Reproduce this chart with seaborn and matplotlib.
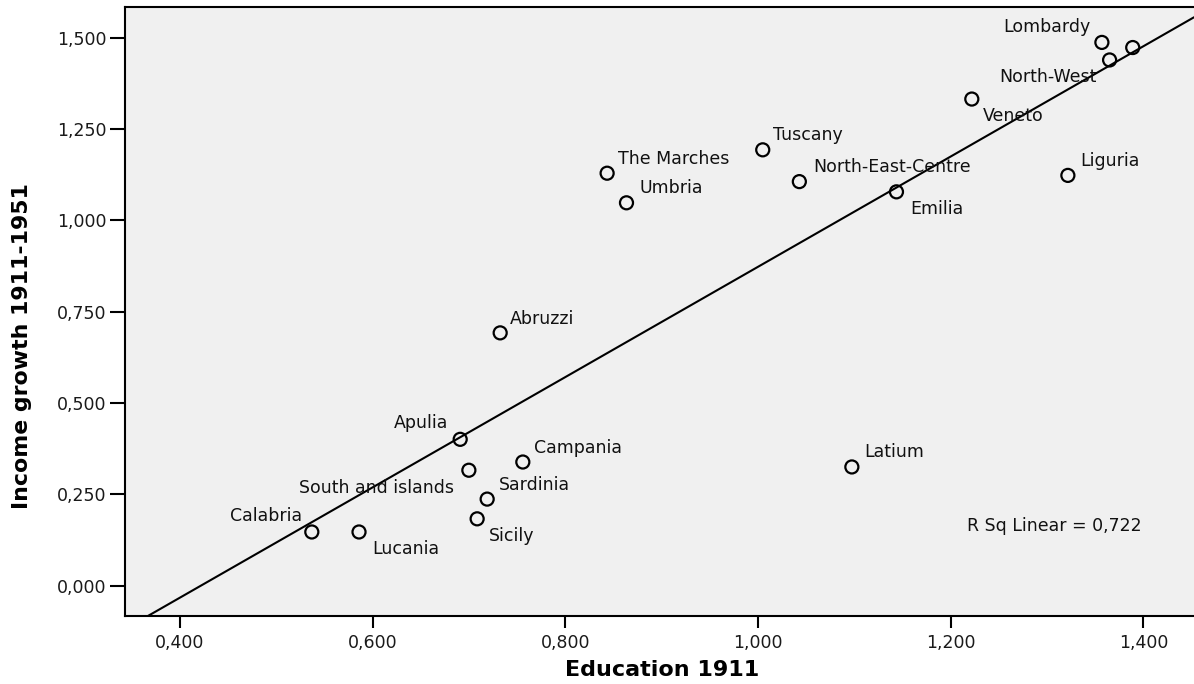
import numpy as np
import pandas as pd
import matplotlib
matplotlib.use("Agg")
import matplotlib.pyplot as plt
from matplotlib.path import Path
from matplotlib.ticker import FuncFormatter, FixedLocator
import seaborn as sns

# Italian regions and macro-areas: education level in 1911 vs income growth 1911-1951
regions = [
    "Lombardy", "", "North-West", "Veneto", "Tuscany", "North-East-Centre",
    "The Marches", "Umbria", "Emilia", "Liguria", "Abruzzi", "Apulia",
    "South and islands", "Campania", "Sardinia", "Sicily", "Calabria",
    "Lucania", "Latium",
]
education_1911 = [
    1.357, 1.389, 1.365, 1.222, 1.005, 1.043,
    0.8435, 0.8636, 1.1438, 1.3217, 0.7325, 0.691,
    0.700, 0.756, 0.719, 0.7086, 0.537,
    0.586, 1.0975,
]
income_growth = [
    1.487, 1.473, 1.439, 1.332, 1.193, 1.106,
    1.129, 1.048, 1.078, 1.123, 0.692, 0.4006,
    0.316, 0.3385, 0.237, 0.183, 0.147,
    0.147, 0.325,
]
x_ticks = [0.4, 0.6, 0.8, 1.0, 1.2, 1.4]
y_ticks = [0.0, 0.25, 0.5, 0.75, 1.0, 1.25, 1.5]
r_squared_text = "R Sq Linear = 0,722"

# Where each name sits relative to its marker: (dx, dy) in points, horizontal alignment
label_offsets = [
    ((-8.5, 11.0), "right"), ((0, 0), "left"), ((-9.0, -12.2), "right"),
    ((8.0, -12.2), "left"), ((7.5, 10.8), "left"), ((10.0, 10.8), "left"),
    ((8.1, 10.3), "left"), ((9.3, 10.8), "left"), ((9.8, -12.4), "left"),
    ((8.8, 10.3), "left"), ((7.2, 10.3), "left"), ((-8.6, 11.7), "right"),
    ((-10.4, -12.5), "right"), ((8.3, 10.3), "left"), ((8.1, 10.1), "left"),
    ((8.8, -12.2), "left"), ((-7.2, 11.7), "right"),
    ((9.6, -12.2), "left"), ((9.0, 11.0), "left"),
]

df = pd.DataFrame({"Education 1911": education_1911,
                   "Income growth 1911-1951": income_growth})

sns.set_style("white", {"axes.facecolor": "#f0f0f0", "axes.edgecolor": "black",
                        "text.color": "black", "axes.labelcolor": "black",
                        "xtick.color": "black", "ytick.color": "black"})
plt.rcParams["font.family"] = ["DejaVu Sans"]

fig = plt.figure(figsize=(11.94, 6.84), dpi=100)
ax = fig.add_axes([0.105, 0.0994, 0.895, 0.8904])
ax.set_xlim(0.3435, 1.4526)
ax.set_ylim(-0.083, 1.584)

# Slightly wide open ellipse marker
t = np.linspace(0, 2 * np.pi, 61)
ellipse = Path(np.column_stack([1.45 * np.cos(t), np.sin(t)]), closed=True)

sns.regplot(
    data=df, x="Education 1911", y="Income growth 1911-1951", ax=ax,
    ci=None, truncate=False,
    scatter_kws=dict(marker=ellipse, s=88, facecolors="none",
                     edgecolors="black", linewidths=1.6, alpha=1, zorder=3),
    line_kws=dict(color="black", linewidth=1.5, zorder=2),
)

for name, xv, yv, (off, ha) in zip(regions, education_1911, income_growth, label_offsets):
    if not name:
        continue
    ax.annotate(name, (xv, yv), xytext=off, textcoords="offset points",
                ha=ha, va="center", fontsize=12.5, color="#111111", zorder=4)

ax.text(0.7873, 0.1483, r_squared_text, transform=ax.transAxes,
        ha="left", va="center", fontsize=12.5, color="#111111")

comma = FuncFormatter(lambda v, pos: f"{v:.3f}".replace(".", ","))
ax.xaxis.set_major_locator(FixedLocator(x_ticks))
ax.yaxis.set_major_locator(FixedLocator(y_ticks))
ax.xaxis.set_major_formatter(comma)
ax.yaxis.set_major_formatter(comma)
ax.tick_params(axis="y", direction="out", length=10.8, width=1.5,
               pad=3, labelsize=12.5, left=True, colors="black",
               labelcolor="#1a1a1a")
ax.tick_params(axis="x", direction="out", length=8.6, width=1.5,
               pad=4, labelsize=12.5, bottom=True, colors="black",
               labelcolor="#1a1a1a")

ax.set_xlabel("Education 1911", fontsize=16, fontweight="bold", color="black")
ax.set_ylabel("Income growth 1911-1951", fontsize=15.8, fontweight="bold",
              color="black")
ax.xaxis.set_label_coords(0.502, -0.072)
ax.yaxis.set_label_coords(-0.087, 0.444)

for side in ("left", "top", "bottom"):
    ax.spines[side].set_linewidth(1.5)
    ax.spines[side].set_color("black")
ax.spines["right"].set_visible(False)

fig.savefig("out.png", dpi=100, facecolor="white")
